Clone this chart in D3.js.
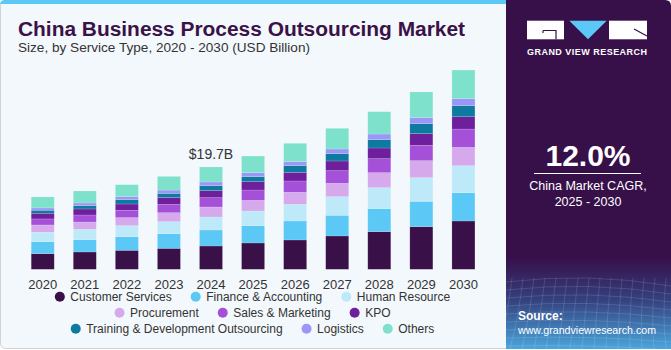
<!DOCTYPE html>
<html>
<head>
<meta charset="utf-8">
<script src="https://cdn.jsdelivr.net/npm/d3@7"></script>
<style>
  body { margin: 0; background: #ffffff; }
  svg { display: block; font-family: "Liberation Sans", Arial, sans-serif; }
</style>
</head>
<body>
<div id="chart"></div>
<script>
// years on the x axis
var years = ["2020", "2021", "2022", "2023", "2024", "2025", "2026", "2027", "2028", "2029", "2030"];

// service types, bottom of the stack first
var segments = ["Customer Services", "Finance & Accounting", "Human Resource", "Procurement",
  "Sales & Marketing", "KPO", "Training & Development Outsourcing", "Logistics", "Others"];

// values (USD billion), one entry per year
var customerServices = [3.02, 3.34, 3.66, 4.04, 4.49, 5.07, 5.65, 6.42, 7.25, 8.21, 9.30];
var financeAccounting = [2.31, 2.37, 2.63, 2.82, 3.08, 3.34, 3.66, 3.98, 4.43, 4.88, 5.45];
var humanResource = [1.80, 1.99, 2.12, 2.31, 2.50, 2.82, 3.21, 3.59, 4.04, 4.56, 5.20];
var procurement = [1.41, 1.41, 1.54, 1.73, 1.93, 2.05, 2.31, 2.57, 2.89, 3.27, 3.53];
var salesMarketing = [1.16, 1.35, 1.41, 1.60, 1.80, 1.99, 2.18, 2.44, 2.70, 2.95, 3.53];
var kpo = [1.09, 1.16, 1.22, 1.35, 1.35, 1.60, 1.67, 1.86, 2.05, 2.25, 2.37];
var trainingDev = [0.58, 0.64, 0.83, 0.77, 0.96, 0.96, 1.28, 1.41, 1.60, 1.93, 2.12];
var logistics = [0.45, 0.51, 0.58, 0.64, 0.71, 0.77, 0.77, 0.90, 1.09, 1.16, 1.35];
var others = [2.12, 2.31, 2.31, 2.63, 2.89, 3.21, 3.53, 3.98, 4.30, 4.94, 5.52];

var series = [customerServices, financeAccounting, humanResource, procurement,
  salesMarketing, kpo, trainingDev, logistics, others];

var colors = ["#3a1049", "#5bc8f5", "#bde9f9", "#d6a9ec", "#a550d8", "#6d1f9c", "#0e7aa0", "#9a97f8", "#7ee1cc"];

// annotation
var labelYear = "2024";
var labelText = "$19.7B";

// legend rows
var legendRows = [[0, 1, 2], [3, 4, 5], [6, 7, 8]];

var dimensions = {
  width: 671,
  height: 350,
  panelX: 506,
  baseline: 269.3
};

var svg = d3.select("#chart")
  .append("svg")
  .attr("width", dimensions.width)
  .attr("height", dimensions.height);

var defs = svg.append("defs");

var grad = defs.append("linearGradient")
  .attr("id", "panelGrad")
  .attr("x1", 0).attr("y1", 0).attr("x2", 0).attr("y2", 1);
grad.append("stop").attr("offset", "0").attr("stop-color", "#37104a");
grad.append("stop").attr("offset", "0.74").attr("stop-color", "#37104a");
grad.append("stop").attr("offset", "0.86").attr("stop-color", "#34417f");
grad.append("stop").attr("offset", "1").attr("stop-color", "#4aa6dc");

// left card
svg.append("rect")
  .attr("x", 0.5).attr("y", 0.5)
  .attr("width", dimensions.panelX + 4).attr("height", 348)
  .attr("rx", 5)
  .attr("fill", "#f3f8fc")
  .attr("stroke", "#cfd3d6");

// blue strip on top
svg.append("path")
  .attr("d", "M0,5 L0,5 Q0,0 5,0 L" + dimensions.panelX + ",0 L" + dimensions.panelX + ",4 L0,4 Z")
  .attr("fill", "#5bc8f5");

// right panel
svg.append("path")
  .attr("d", "M" + dimensions.panelX + ",0 L665,0 Q671,0 671,6 L671,349 L" + dimensions.panelX + ",349 Z")
  .attr("fill", "url(#panelGrad)");

// grid lines at the bottom of the panel (decoration)
var deco = svg.append("g").attr("stroke", "#ffffff").attr("stroke-opacity", 0.18).attr("fill", "none").attr("stroke-width", 0.7);
for (var i = 0; i < 9; i++) {
  var yy = 282 + i * 8;
  deco.append("path").attr("d", "M" + dimensions.panelX + "," + yy + " Q588," + (yy - 10 + i) + " 671," + (yy + 4));
}
for (var j = 0; j < 16; j++) {
  var xx = dimensions.panelX + j * 11;
  deco.append("path").attr("d", "M" + (xx + 6) + ",278 Q" + (xx + 2) + ",315 " + (xx - 8 + j) + ",349");
}

// title
svg.append("text")
  .attr("x", 18).attr("y", 36)
  .attr("font-size", 20).attr("font-weight", "bold")
  .attr("fill", "#3a1248")
  .attr("textLength", 447).attr("lengthAdjust", "spacingAndGlyphs")
  .text("China Business Process Outsourcing Market");

svg.append("text")
  .attr("x", 18).attr("y", 52)
  .attr("font-size", 13)
  .attr("fill", "#333333")
  .attr("textLength", 292).attr("lengthAdjust", "spacingAndGlyphs")
  .text("Size, by Service Type, 2020 - 2030 (USD Billion)");

// scales
var xScale = d3.scaleBand()
  .domain(years)
  .range([12.15, 494])
  .padding(0.453);

var yScale = d3.scaleLinear()
  .domain([0, 40])
  .range([dimensions.baseline, dimensions.baseline - 40 * 5.193]);

var table = years.map(function(y, i) {
  var row = { year: y };
  segments.forEach(function(s, k) { row[s] = series[k][i]; });
  return row;
});

var stacked = d3.stack().keys(segments)(table);

svg.append("g")
  .selectAll("g")
  .data(stacked)
  .enter()
  .append("g")
  .attr("fill", function(d, k) { return colors[k]; })
  .selectAll("rect")
  .data(function(d) { return d; })
  .enter()
  .append("rect")
  .attr("x", function(d) { return xScale(d.data.year); })
  .attr("y", function(d) { return yScale(d[1]); })
  .attr("width", xScale.bandwidth())
  .attr("height", function(d) { return yScale(d[0]) - yScale(d[1]); })
  .attr("stroke", "#ffffff")
  .attr("stroke-opacity", 0.25)
  .attr("stroke-width", 0.6);

// x axis
var xAxis = svg.append("g")
  .attr("transform", "translate(0," + dimensions.baseline + ")")
  .call(d3.axisBottom(xScale).tickSize(0).tickPadding(10))
  .call(function(g) { g.select(".domain").remove(); });

xAxis.selectAll("text")
  .attr("font-size", 13)
  .attr("font-family", "Liberation Sans, Arial, sans-serif")
  .style("fill", "#333333");

// total label over 2024
var labelIdx = years.indexOf(labelYear);
var labelTotal = d3.sum(series, function(s) { return s[labelIdx]; });
svg.append("text")
  .attr("x", xScale(labelYear) + xScale.bandwidth() / 2)
  .attr("y", yScale(labelTotal) - 8)
  .attr("text-anchor", "middle")
  .attr("font-size", 14)
  .attr("fill", "#333333")
  .text(labelText);

// legend, each row centred
var legend = svg.append("g");
legendRows.forEach(function(row, r) {
  var g = legend.append("g");
  var cx = 0;
  row.forEach(function(k) {
    g.append("circle")
      .attr("cx", cx + 5).attr("cy", 0).attr("r", 5)
      .attr("fill", colors[k]);
    var t = g.append("text")
      .attr("x", cx + 15.5).attr("y", 4.3)
      .attr("font-size", 12)
      .attr("fill", "#333333")
      .text(segments[k]);
    cx += 15.5 + t.node().getComputedTextLength() + 19;
  });
  var w = cx - 19;
  g.attr("transform", "translate(" + (252.5 - w / 2) + "," + (296.7 + r * 16) + ")");
});

// logo
var logo = svg.append("g");
logo.append("rect").attr("x", 527).attr("y", 20.7).attr("width", 37).attr("height", 18.6).attr("fill", "#ffffff");
logo.append("path").attr("d", "M543,30.5 L556,30.5 L556,39.3 M543,30.5 L543,33").attr("stroke", "#37104a").attr("stroke-width", 1.2).attr("fill", "none");
logo.append("path").attr("d", "M569.3,20.7 L606.7,20.7 L588,39.3 Z").attr("fill", "#5bc8f5");
logo.append("rect").attr("x", 609).attr("y", 20.7).attr("width", 38).attr("height", 18.6).attr("fill", "#ffffff");
logo.append("path").attr("d", "M634,29 L647,36").attr("stroke", "#37104a").attr("stroke-width", 1.2);
svg.append("text")
  .attr("x", 527).attr("y", 55)
  .attr("font-size", 9).attr("font-weight", "bold")
  .attr("fill", "#ffffff")
  .attr("textLength", 120).attr("lengthAdjust", "spacing")
  .text("GRAND VIEW RESEARCH");

// CAGR block
svg.append("text")
  .attr("x", 588).attr("y", 166)
  .attr("text-anchor", "middle")
  .attr("font-size", 30).attr("font-weight", "bold")
  .attr("fill", "#ffffff")
  .text("12.0%");

svg.append("line")
  .attr("x1", 534).attr("x2", 641)
  .attr("y1", 173.5).attr("y2", 173.5)
  .attr("stroke", "#ffffff").attr("stroke-width", 1);

svg.append("text")
  .attr("x", 588).attr("y", 190)
  .attr("text-anchor", "middle")
  .attr("font-size", 12.5)
  .attr("fill", "#ffffff")
  .text("China Market CAGR,");

svg.append("text")
  .attr("x", 588).attr("y", 206)
  .attr("text-anchor", "middle")
  .attr("font-size", 12.5)
  .attr("fill", "#ffffff")
  .text("2025 - 2030");

// source
svg.append("text")
  .attr("x", 518).attr("y", 320)
  .attr("font-size", 12).attr("font-weight", "bold")
  .attr("fill", "#ffffff")
  .text("Source:");

svg.append("text")
  .attr("x", 518).attr("y", 334)
  .attr("font-size", 11.5)
  .attr("fill", "#ffffff")
  .attr("textLength", 138).attr("lengthAdjust", "spacingAndGlyphs")
  .text("www.grandviewresearch.com");
</script>
</body>
</html>
